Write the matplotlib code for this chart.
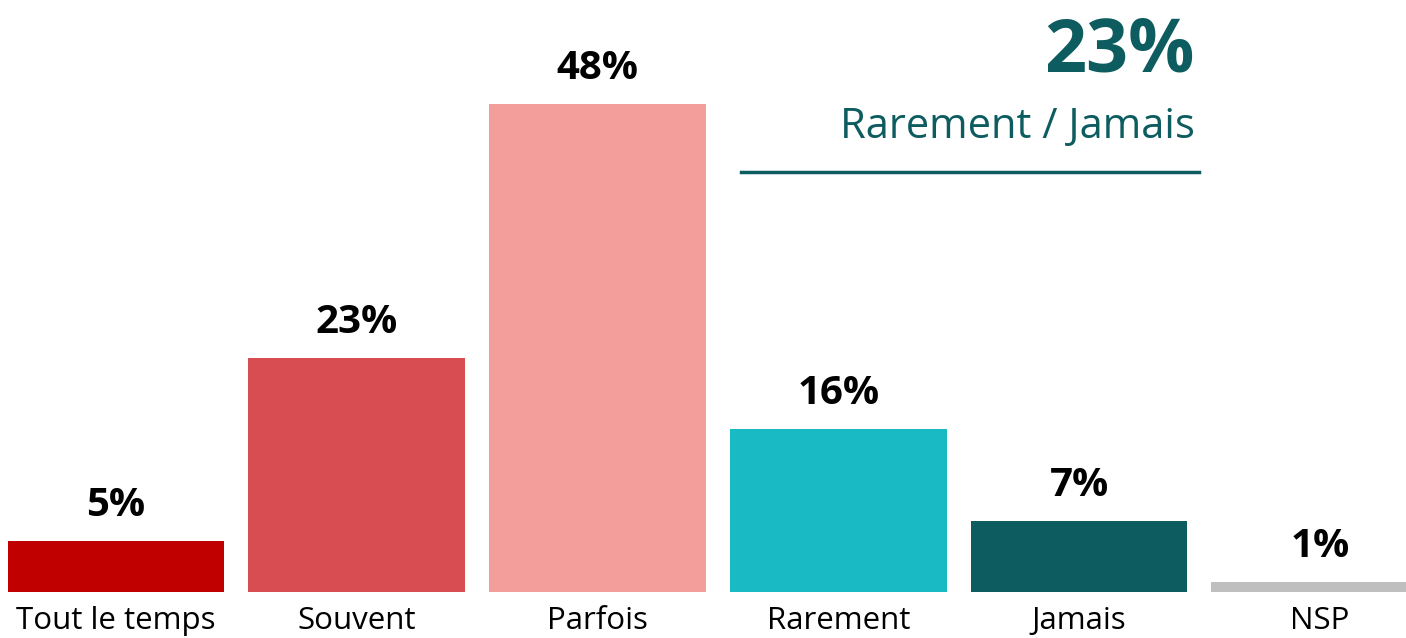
import matplotlib.pyplot as plt
from matplotlib.lines import Line2D

# data
categories = ['Tout le temps', 'Souvent', 'Parfois', 'Rarement', 'Jamais', 'NSP']
values = [5, 23, 48, 16, 7, 1]
colors = ['#C00000', '#D84D51', '#F49E9C', '#1ABAC4', '#0D5C5F', '#BFBFBF']
summary_value = '23%'
summary_label = 'Rarement / Jamais'

teal = '#0D5C5F'
plt.rcParams['font.family'] = ['Open Sans', 'DejaVu Sans']

W, H = 1406, 638
fig = plt.figure(figsize=(W / 100, H / 100), dpi=100)
ax = fig.add_axes([0, (H - 592) / H, 1, 592 / H])

x = list(range(len(categories)))
bars = ax.bar(x, values, width=0.9, color=colors)

# value labels above bars
for b, v in zip(bars, values):
    ax.annotate(f'{v}%', (b.get_x() + b.get_width() / 2, b.get_height()),
                xytext=(0, 18), textcoords='offset points',
                ha='center', va='baseline', fontsize=29, fontweight='bold', color='black')

ax.set_xlim(-116 / 240.75, (W - 116) / 240.75)
ax.set_ylim(0, 592 / 10.167)
ax.set_xticks(x)
ax.set_xticklabels(categories, fontsize=22.5, color='black')
ax.tick_params(axis='x', length=0, pad=10)
ax.set_yticks([])
for s in ax.spines.values():
    s.set_visible(False)

# summary block on the upper right
fig.text(1195 / W, 1 - 72 / H, summary_value, ha='right', va='baseline',
         fontsize=53, fontweight='bold', color=teal)
fig.text(1195 / W, 1 - 138 / H, summary_label, ha='right', va='baseline',
         fontsize=30, color=teal)
fig.add_artist(Line2D([741 / W, 1199 / W], [1 - 172 / H, 1 - 172 / H],
                      transform=fig.transFigure, color=teal, linewidth=2.5))

fig.savefig('out.png', dpi=100)
